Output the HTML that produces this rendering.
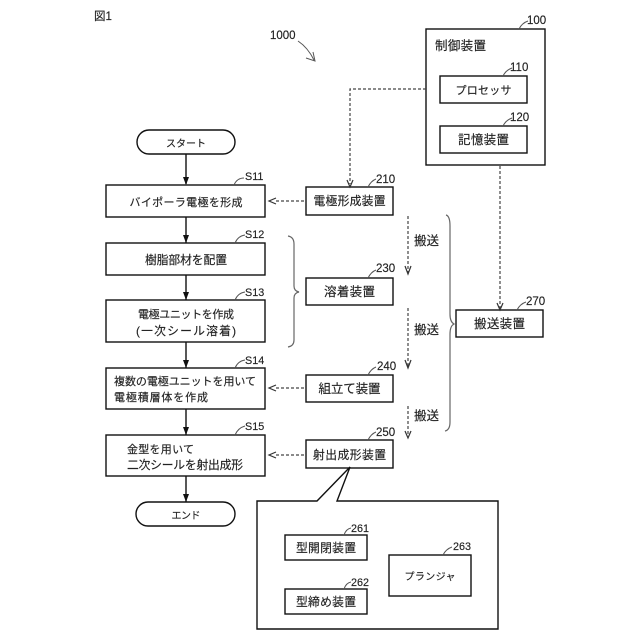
<!DOCTYPE html>
<html><head><meta charset="utf-8">
<style>
html,body{margin:0;padding:0;background:#fff}
svg{display:block;filter:blur(.3px)}
text{font-family:"Liberation Sans","Noto Sans CJK JP",sans-serif;fill:#222;stroke:#222;stroke-width:.15;font-size:12.5px}
.c{text-anchor:middle}
.b{fill:#fff;stroke:#111;stroke-width:1.4}
.a{fill:none;stroke:#111;stroke-width:1.4}
.d{fill:none;stroke:#444;stroke-width:1.2;stroke-dasharray:3 2}
.h{fill:none;stroke:#333;stroke-width:1.2}
.l{fill:none;stroke:#555;stroke-width:1}
.g{fill:none;stroke:#666;stroke-width:1.2}
text.n{font-size:11.5px}
text.s{font-size:10.8px}
text.k{font-size:11px}
text.m{font-size:11.8px}
text.t{font-size:10px}
</style></head><body>
<svg width="640" height="640" viewBox="0 0 640 640" xmlns="http://www.w3.org/2000/svg">
<rect width="640" height="640" fill="#fff"/>
<text x="94" y="20" class="n">図1</text>
<text x="270" y="39" class="n">1000</text>
<path class="l" d="M298 41C304 45 310 52 314 60"/><path class="l" d="M306 58L315 61L313 52"/>

<!-- main flow arrows -->
<path class="a" d="M186 154V184M186 217V243M186 275V300M186 342V368M186 409V435M186 476V502"/>
<path d="M183 177L186 185L189 177Z M183 235L186 243L189 235Z M183 292L186 300L189 292Z M183 360L186 368L189 360Z M183 427L186 435L189 427Z M183 494L186 502L189 494Z" fill="#111"/>

<!-- flow boxes -->
<rect class="b" x="137" y="130" width="98" height="24" rx="12"/>
<text x="186" y="147" class="c t" textLength="40">スタート</text>
<rect class="b" x="106" y="185" width="159" height="32"/>
<text x="186" y="206" class="c k" textLength="113">バイポーラ電極を形成</text>
<rect class="b" x="106" y="243" width="159" height="32"/>
<text x="186" y="264" class="c m" textLength="82">樹脂部材を配置</text>
<rect class="b" x="106" y="300" width="159" height="42"/>
<text x="186" y="318" class="c k" textLength="96">電極ユニットを作成</text>
<text x="186" y="335" class="c m" textLength="100">(一次シール溶着)</text>
<rect class="b" x="106" y="368" width="159" height="41"/>
<text x="114" y="385" class="k" textLength="142">複数の電極ユニットを用いて</text>
<text x="114" y="401" class="k" textLength="94">電極積層体を作成</text>
<rect class="b" x="106" y="435" width="159" height="41"/>
<text x="127" y="453" class="k" textLength="67">金型を用いて</text>
<text x="127" y="469" class="m" textLength="116">二次シールを射出成形</text>
<rect class="b" x="136" y="502" width="99" height="24" rx="12"/>
<text x="186" y="519" class="c t" textLength="29">エンド</text>

<!-- step labels -->
<path class="l" d="M234 185Q237 178 244 178M235 243Q238 236 245 235M235 300Q238 293 245 292M235 368Q238 361 245 360M235 435Q238 428 245 426"/>
<text x="245" y="180" class="s">S11</text>
<text x="245" y="238" class="s">S12</text>
<text x="245" y="296" class="s">S13</text>
<text x="245" y="364" class="s">S14</text>
<text x="245" y="430" class="s">S15</text>

<!-- control -->
<rect class="b" x="426" y="29" width="119" height="136"/>
<text x="435" y="50" textLength="51">制御装置</text>
<rect class="b" x="440" y="76" width="87" height="27"/>
<text x="483.500" y="94" class="c k" textLength="56">プロセッサ</text>
<rect class="b" x="440" y="126" width="87" height="27"/>
<text x="483.500" y="144" class="c" textLength="51">記憶装置</text>
<path class="l" d="M519 29Q522 23 528 21M503 76Q506 70 512 68M503 126Q506 120 512 118"/>
<text x="527" y="24" class="n">100</text>
<text x="510" y="71" class="n">110</text>
<text x="510" y="121" class="n">120</text>

<!-- device boxes -->
<rect class="b" x="306" y="187" width="87" height="28"/>
<text x="349.500" y="205" class="c m" textLength="72">電極形成装置</text>
<rect class="b" x="306" y="278" width="87" height="27"/>
<text x="349.500" y="296" class="c" textLength="51">溶着装置</text>
<rect class="b" x="306" y="375" width="87" height="27"/>
<text x="349.500" y="393" class="c" textLength="62">組立て装置</text>
<rect class="b" x="306" y="440" width="87" height="28"/>
<text x="349.500" y="459" class="c m" textLength="73">射出成形装置</text>
<rect class="b" x="456" y="310" width="87" height="27"/>
<text x="499.500" y="328" class="c" textLength="51">搬送装置</text>
<path class="l" d="M368 187Q371 181 376 179M368 278Q371 272 376 270M368 375Q371 369 376 367M368 440Q371 434 376 432M517 310Q520 304 526 302"/>
<text x="376" y="183" class="n">210</text>
<text x="376" y="272" class="n">230</text>
<text x="377" y="370" class="n">240</text>
<text x="376" y="436" class="n">250</text>
<text x="526" y="305" class="n">270</text>

<!-- dashed connectors -->
<path class="d" d="M426 89H350V184"/>
<path class="d" d="M500 166V308"/>
<path class="d" d="M304 201H274M304 388H274M304 455H274"/>
<path class="d" d="M408 216V272M408 308V366M408 406V436"/>
<path class="h" d="M347 180L350 187L353 180M497 303L500 310L503 303M405 266L408 274L411 266M405 360L408 368L411 360M405 431L408 438L411 431M276 198L269 201L276 204M276 385L269 388L276 391M276 452L269 455L276 458"/>
<text x="414" y="245" textLength="25">搬送</text>
<text x="414" y="334" textLength="25">搬送</text>
<text x="414" y="420" textLength="25">搬送</text>

<!-- braces -->
<path class="g" d="M288 236Q294 237 294 244V286Q294 291 299 292Q294 293 294 298V340Q294 346 288 347"/>
<path class="g" d="M446 215Q450 216 450 226V314Q450 322 454 324Q450 326 450 334V422Q450 430 445 431"/>

<!-- callout -->
<path class="b" d="M257 501H317L350 467L337 501H498V629H257Z"/>
<rect class="b" x="285" y="535" width="82" height="25"/>
<text x="326" y="552" class="c m" textLength="60">型開閉装置</text>
<rect class="b" x="285" y="589" width="82" height="25"/>
<text x="326" y="606" class="c m" textLength="60">型締め装置</text>
<rect class="b" x="389" y="555" width="82" height="41"/>
<text x="430" y="580" class="c t" textLength="51">プランジャ</text>
<path class="l" d="M344 535Q346 529 351 528M344 589Q346 583 351 582M443 555Q446 549 452 547"/>
<text x="351" y="532" class="s">261</text>
<text x="351" y="586" class="s">262</text>
<text x="453" y="550" class="s">263</text>
</svg>
</body></html>
